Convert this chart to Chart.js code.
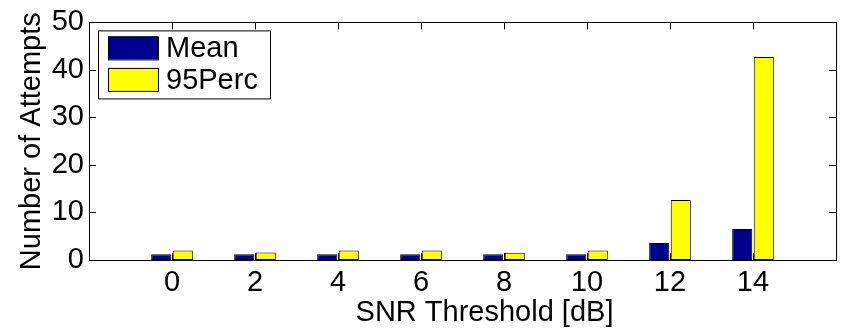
<!DOCTYPE html>
<html>
<head>
<meta charset="utf-8">
<script src="https://cdn.jsdelivr.net/npm/chart.js@4.4.0/dist/chart.umd.min.js"></script>
<style>
    html, body { margin: 0; padding: 0; background: #fff; }
    #contenedor { width: 842px; height: 331px; position: relative; }
</style>
</head>
<body>
<div id="contenedor"><canvas id="intentosChart"></canvas></div>
<script>
// datos
const umbrales = [0, 2, 4, 6, 8, 10, 12, 14];
const mediaIntentos = [1.2, 1.2, 1.2, 1.2, 1.2, 1.2, 3.6, 6.5];
const perc95Intentos = [2.0, 1.6, 2.0, 2.0, 1.5, 2.0, 12.6, 42.7];
const ticksY = [0, 10, 20, 30, 40, 50];
const tituloX = 'SNR Threshold [dB]';
const tituloY = 'Number of Attempts';

const fuente = '"Liberation Sans", Arial, Helvetica, sans-serif';
const tamFuente = 29;

// huecos vacios a cada lado, como en el eje de MATLAB (-2 y 16)
const etiquetas = [''].concat(umbrales.map(String), ['']);
const conHuecos = arr => [null].concat(arr, [null]);

// marco, ticks hacia dentro, titulo X y leyenda con caja
const marcoPlugin = {
    id: 'marco',
    afterDatasetsDraw(chart) {
        const { ctx, chartArea: a, scales } = chart;
        const largo = 7;
        ctx.save();
        ctx.strokeStyle = '#000';
        ctx.lineWidth = 1;
        ctx.beginPath();
        scales.x.ticks.forEach((t, i) => {
            if (etiquetas[i] === '') return;
            const x = Math.round(scales.x.getPixelForTick(i)) + 0.5;
            ctx.moveTo(x, a.bottom); ctx.lineTo(x, a.bottom - largo);
            ctx.moveTo(x, a.top); ctx.lineTo(x, a.top + largo);
        });
        ticksY.forEach(v => {
            const y = Math.round(scales.y.getPixelForValue(v)) + 0.5;
            ctx.moveTo(a.left, y); ctx.lineTo(a.left + largo, y);
            ctx.moveTo(a.right, y); ctx.lineTo(a.right - largo, y);
        });
        ctx.stroke();
        ctx.strokeRect(Math.round(a.left) + 0.5, Math.round(a.top) + 0.5,
            Math.round(a.right - a.left), Math.round(a.bottom - a.top));

        ctx.font = tamFuente + 'px ' + fuente;
        ctx.fillStyle = '#000';

        // titulo del eje X (en el original queda algo a la derecha del centro)
        ctx.textAlign = 'center';
        ctx.textBaseline = 'alphabetic';
        ctx.fillText(tituloX, (a.left + a.right) / 2 + 22, 321);

        // leyenda
        const lx = a.left + 9, ly = a.top + 8, lw = 172, lh = 68;
        ctx.textAlign = 'left';
        ctx.textBaseline = 'middle';
        ctx.fillStyle = '#fff';
        ctx.fillRect(lx, ly, lw, lh);
        ctx.strokeRect(lx + 0.5, ly + 0.5, lw, lh);
        chart.data.datasets.forEach((ds, i) => {
            const py = ly + 6 + i * 31.5;
            ctx.fillStyle = ds.backgroundColor;
            ctx.fillRect(lx + 10, py, 50, 23);
            ctx.strokeRect(lx + 10.5, py + 0.5, 50, 23);
            ctx.fillStyle = '#000';
            ctx.fillText(ds.label, lx + 68, py + 13);
        });
        ctx.restore();
    }
};

const ctx = document.getElementById('intentosChart').getContext('2d');
new Chart(ctx, {
    type: 'bar',
    data: {
        labels: etiquetas,
        datasets: [{
            label: 'Mean',
            data: conHuecos(mediaIntentos),
            backgroundColor: '#00008f',
            borderColor: '#000',
            borderWidth: 1,
            borderSkipped: false
        }, {
            label: '95Perc',
            data: conHuecos(perc95Intentos),
            backgroundColor: '#ffff00',
            borderColor: '#000',
            borderWidth: 1,
            borderSkipped: false
        }]
    },
    options: {
        responsive: true,
        maintainAspectRatio: false,
        animation: false,
        categoryPercentage: 0.52,
        barPercentage: 0.93,
        layout: { padding: { top: 12, right: 3, left: 0, bottom: 0 } },
        plugins: { legend: { display: false }, tooltip: { enabled: false } },
        scales: {
            x: {
                offset: false,
                grid: { display: false, drawTicks: false },
                border: { display: false },
                ticks: { color: '#000', padding: 6, maxRotation: 0, autoSkip: false, font: { family: fuente, size: tamFuente } },
                title: { display: false },
                afterFit: s => { s.height = 71; }
            },
            y: {
                min: 0,
                max: 50,
                grid: { display: false, drawTicks: false },
                border: { display: false },
                afterBuildTicks: s => { s.ticks = ticksY.map(v => ({ value: v })); },
                ticks: { color: '#000', padding: 5, font: { family: fuente, size: tamFuente } },
                title: { display: true, text: tituloY, color: '#000', padding: { top: 15, bottom: 0 }, font: { family: fuente, size: tamFuente } },
                afterFit: s => { s.width = 89; }
            }
        }
    },
    plugins: [marcoPlugin]
});
</script>
</body>
</html>
